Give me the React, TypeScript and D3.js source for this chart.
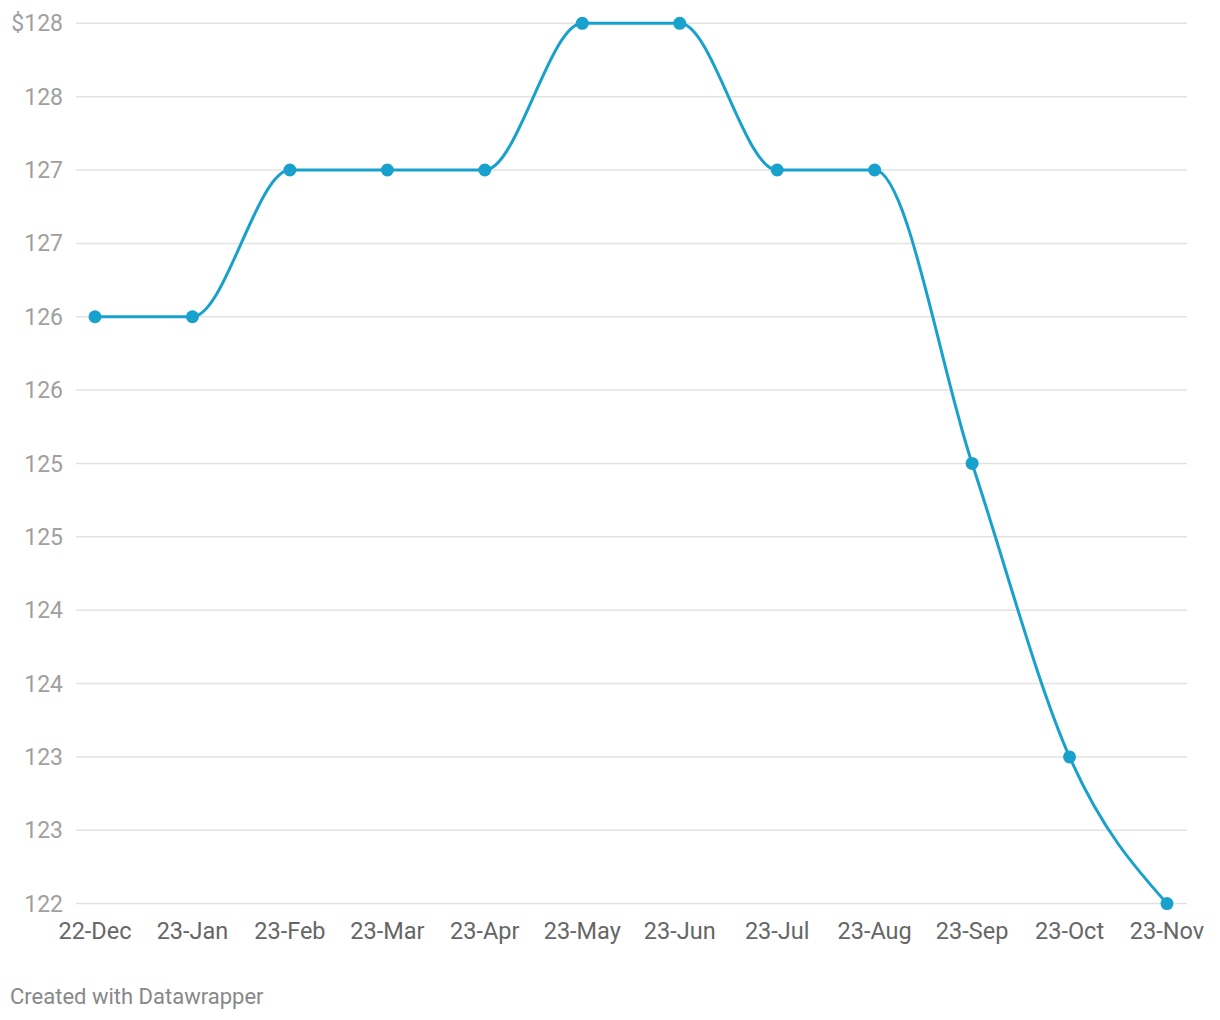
import React from "react";
import * as d3 from "d3";

const categories = ["22-Dec","23-Jan","23-Feb","23-Mar","23-Apr","23-May","23-Jun","23-Jul","23-Aug","23-Sep","23-Oct","23-Nov"];
const values = [126,126,127,127,127,128,128,127,127,125,123,122];
const yTicks = [122,122.5,123,123.5,124,124.5,125,125.5,126,126.5,127,127.5,128];

const W = 1220, H = 1020;
const left = 76, right = 1187, top = 23.3, bottom = 903.6;

export default function App() {
  const x = d3.scalePoint<string>().domain(categories).range([95, 1167]);
  const y = d3.scaleLinear().domain([122, 128]).range([bottom, top]);
  const line = d3.line<number>()
    .x((_, i) => x(categories[i]) as number)
    .y((d) => y(d))
    .curve(d3.curveMonotoneX);
  const fmt = (v: number, i: number) => {
    const s = String(Math.round(v + 1e-9));
    return i === yTicks.length - 1 ? "$" + s : s;
  };
  return (
    <svg width={W} height={H} style={{ position: "absolute", left: 0, top: 0, background: "#fff" }}
      fontFamily="Roboto, sans-serif">
      {yTicks.map((t, i) => (
        <g key={t}>
          <line x1={left} x2={right} y1={y(t)} y2={y(t)} stroke="#e2e2e2" strokeWidth={1.5} />
          <text x={63} y={y(t)} dy="0.35em" textAnchor="end" fontSize={23} fill="#a0a0a0">{fmt(t, i)}</text>
        </g>
      ))}
      {categories.map((c) => (
        <text key={c} x={x(c)} y={938.5} textAnchor="middle" fontSize={23.5} fill="#666">{c}</text>
      ))}
      <path d={line(values) || ""} fill="none" stroke="#18a1cd" strokeWidth={3} />
      {values.map((v, i) => (
        <circle key={i} cx={x(categories[i])} cy={y(v)} r={6.5} fill="#18a1cd" />
      ))}
      <text x={10} y={1004} fontSize={22} fill="#888">Created with Datawrapper</text>
    </svg>
  );
}
